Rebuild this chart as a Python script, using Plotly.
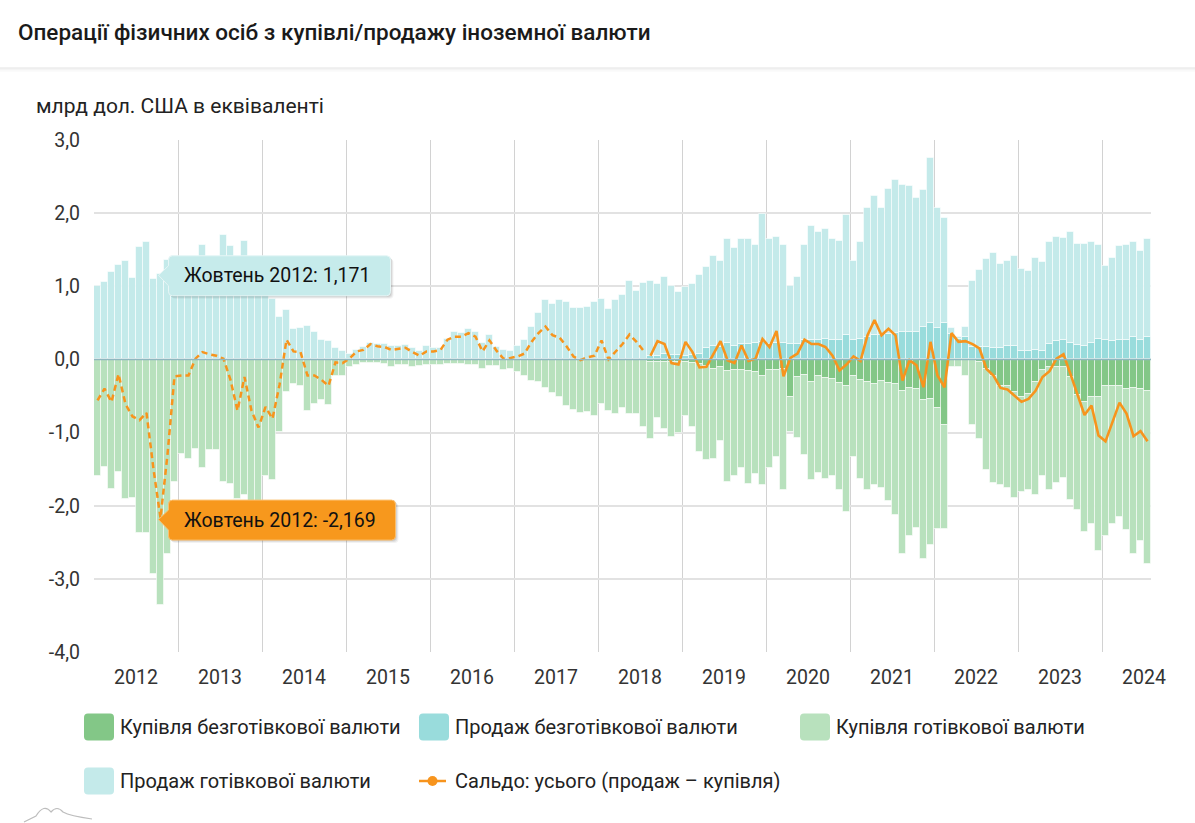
import plotly.graph_objects as go

# ---------------- data (mlrd USD equivalent), monthly Jan 2012 .. Jul 2024 ----------------
years = ["2012", "2013", "2014", "2015", "2016", "2017", "2018",
         "2019", "2020", "2021", "2022", "2023", "2024"]
months_uk = ["Січень", "Лютий", "Березень", "Квітень", "Травень", "Червень",
             "Липень", "Серпень", "Вересень", "Жовтень", "Листопад", "Грудень"]
y_tick_values = [-4, -3, -2, -1, 0, 1, 2, 3]
y_tick_labels = ["-4,0", "-3,0", "-2,0", "-1,0", "0,0", "1,0", "2,0", "3,0"]

# Продаж готівкової валюти
cash_sale = [
    1.00, 1.06, 1.19, 1.29, 1.35, 1.12, 1.54, 1.61, 1.10, 1.171, 1.36, 1.42,
    1.07, 1.13, 1.23, 1.57, 1.31, 1.29, 1.70, 1.55, 1.21, 1.62, 1.25, 1.02,
    0.94, 0.83, 0.58, 0.68, 0.42, 0.43, 0.46, 0.37, 0.27, 0.25, 0.15, 0.12,
    0.08, 0.13, 0.17, 0.23, 0.21, 0.21, 0.19, 0.18, 0.20, 0.16, 0.12, 0.18,
    0.15, 0.15, 0.28, 0.37, 0.36, 0.42, 0.37, 0.23, 0.34, 0.17, 0.13, 0.12,
    0.19, 0.26, 0.45, 0.64, 0.81, 0.76, 0.81, 0.78, 0.70, 0.71, 0.72, 0.79,
    0.83, 0.69, 0.81, 0.88, 1.07, 0.94, 1.04, 1.02, 0.98, 1.05, 0.94, 0.86,
    0.94, 0.97, 1.07, 1.11, 1.24, 1.17, 1.43, 1.34, 1.44, 1.44, 1.34, 1.75,
    1.44, 1.45, 1.35, 0.79, 0.92, 1.30, 1.56, 1.47, 1.51, 1.38, 1.35, 1.64,
    1.08, 1.32, 1.76, 1.91, 1.73, 1.98, 2.09, 2.01, 1.99, 1.84, 1.88, 2.26,
    1.64, 1.43, 0.08, 0.02, 0.15, 0.90, 1.05, 1.20, 1.30, 1.16, 1.16, 1.22,
    1.11, 1.10, 1.26, 1.21, 1.39, 1.42, 1.40, 1.51, 1.38, 1.39, 1.37, 1.29,
    1.02, 1.14, 1.28, 1.30, 1.30, 1.21, 1.35,
]

# Продаж безготівкової валюти (available from Aug 2018)
noncash_sale = [None] * 79 + [
    0.05, 0.05, 0.08, 0.06, 0.06,
    0.05, 0.06, 0.08, 0.15, 0.18, 0.17, 0.22, 0.19, 0.21, 0.21, 0.22, 0.24,
    0.21, 0.22, 0.22, 0.21, 0.21, 0.26, 0.27, 0.27, 0.28, 0.26, 0.27, 0.34,
    0.26, 0.28, 0.31, 0.33, 0.34, 0.35, 0.36, 0.37, 0.38, 0.37, 0.44, 0.50,
    0.43, 0.50, 0.35, 0.28, 0.30, 0.17, 0.17, 0.17, 0.16, 0.15, 0.18, 0.19,
    0.12, 0.11, 0.13, 0.12, 0.21, 0.25, 0.26, 0.23, 0.20, 0.19, 0.23, 0.28,
    0.26, 0.25, 0.27, 0.27, 0.30, 0.27, 0.30,
]

# Купівля готівкової валюти
cash_buy = [
    -1.60, -1.47, -1.77, -1.54, -1.91, -1.89, -2.37, -2.37, -2.93, -3.36, -2.66, -1.68,
    -1.29, -1.36, -1.22, -1.48, -1.24, -1.24, -1.68, -1.70, -1.91, -1.86, -1.95, -1.95,
    -1.59, -1.65, -0.99, -0.45, -0.33, -0.36, -0.70, -0.61, -0.55, -0.62, -0.22, -0.22,
    -0.10, -0.08, -0.05, -0.05, -0.05, -0.06, -0.10, -0.07, -0.07, -0.10, -0.09, -0.08,
    -0.07, -0.07, -0.06, -0.06, -0.06, -0.07, -0.08, -0.13, -0.09, -0.09, -0.14, -0.13,
    -0.17, -0.22, -0.29, -0.31, -0.39, -0.46, -0.52, -0.63, -0.69, -0.73, -0.72, -0.77,
    -0.61, -0.71, -0.74, -0.67, -0.75, -0.74, -0.93, -1.06, -0.77, -0.91, -1.02, -0.96,
    -0.74, -0.88, -1.21, -1.28, -1.23, -1.01, -1.52, -1.45, -1.35, -1.54, -1.39, -1.50,
    -1.34, -1.19, -1.65, -0.47, -0.84, -1.09, -1.34, -1.32, -1.37, -1.32, -1.47, -1.72,
    -1.11, -1.36, -1.47, -1.38, -1.46, -1.62, -1.80, -2.23, -2.03, -1.90, -2.17, -2.00,
    -1.65, -1.43, -0.11, -0.10, -0.22, -0.88, -1.06, -1.38, -1.47, -1.36, -1.39, -1.45,
    -1.29, -1.31, -1.54, -1.44, -1.68, -1.59, -1.52, -1.68, -1.57, -1.78, -1.73, -2.11,
    -2.05, -1.88, -1.80, -1.93, -2.27, -2.07, -2.37,
]

# Купівля безготівкової валюти (available from Aug 2018)
noncash_buy = [None] * 79 + [
    -0.03, -0.03, -0.04, -0.04, -0.04,
    -0.04, -0.05, -0.06, -0.09, -0.13, -0.10, -0.16, -0.14, -0.14, -0.16, -0.17, -0.22,
    -0.15, -0.15, -0.13, -0.52, -0.24, -0.21, -0.31, -0.23, -0.26, -0.27, -0.32, -0.36,
    -0.22, -0.28, -0.31, -0.34, -0.30, -0.32, -0.33, -0.43, -0.39, -0.40, -0.56, -0.54,
    -0.67, -0.89, 0.00, 0.00, 0.00, -0.01, -0.03, -0.13, -0.22, -0.36, -0.37, -0.45,
    -0.52, -0.47, -0.31, -0.15, -0.11, -0.10, -0.10, -0.24, -0.49, -0.58, -0.52, -0.51,
    -0.37, -0.37, -0.36, -0.40, -0.39, -0.41, -0.43,
]

# Сальдо: cash only (Jan 2012 .. Jul 2018, dashed)
saldo_cash = [
    -0.56, -0.40, -0.58, -0.20, -0.61, -0.78, -0.83, -0.73, -1.50, -2.169, -1.30, -0.23,
    -0.22, -0.22, 0.01, 0.10, 0.07, 0.05, 0.01, -0.28, -0.70, -0.24, -0.70, -0.93,
    -0.65, -0.81, -0.35, 0.27, 0.11, 0.10, -0.22, -0.22, -0.28, -0.36, -0.04, -0.05,
    0.01, 0.11, 0.13, 0.21, 0.18, 0.17, 0.13, 0.15, 0.16, 0.10, 0.05, 0.11,
    0.11, 0.13, 0.27, 0.31, 0.31, 0.36, 0.31, 0.11, 0.26, 0.12, 0.01, 0.02,
    0.04, 0.08, 0.24, 0.36, 0.45, 0.33, 0.30, 0.18, 0.04, -0.01, 0.03, 0.05,
    0.26, 0.00, 0.10, 0.21, 0.34, 0.24, 0.12,
]
# Сальдо: усього (Aug 2018 .. Jul 2024, solid)
saldo_total = [None] * 79 + [
    0.05, 0.25, 0.21, -0.05, -0.07,
    0.24, 0.10, -0.11, -0.10, 0.08, 0.25, -0.01, -0.05, 0.19, -0.02, 0.01, 0.28,
    0.17, 0.39, -0.23, 0.02, 0.08, 0.27, 0.21, 0.21, 0.17, 0.05, -0.15, -0.07,
    0.04, -0.02, 0.33, 0.54, 0.33, 0.42, 0.33, -0.29, -0.01, -0.08, -0.38, 0.24,
    -0.22, -0.38, 0.36, 0.24, 0.25, 0.21, 0.15, -0.13, -0.22, -0.39, -0.41, -0.49,
    -0.58, -0.54, -0.43, -0.24, -0.16, 0.01, 0.07, -0.20, -0.48, -0.76, -0.63, -1.04,
    -1.12, -0.86, -0.59, -0.74, -1.05, -0.98, -1.12,
]

series_names = ["Купівля безготівкової валюти", "Продаж безготівкової валюти",
                "Купівля готівкової валюти", "Продаж готівкової валюти",
                "Сальдо: усього (продаж – купівля)"]
title_text = "Операції фізичних осіб з купівлі/продажу іноземної валюти"
unit_text = "млрд дол. США в еквіваленті"
tooltip_index = 9  # Жовтень 2012

# ---------------- styling ----------------
C_NB = "#83c787"   # non-cash buy
C_NS = "#99dcdc"   # non-cash sale
C_CB = "#b8e1bd"   # cash buy
C_CS = "#c4eaea"   # cash sale
C_LINE = "#f7941d"
FONT = "Roboto"
FS = 19.5
FS_LEG = 20
W, H = 1195, 823
PL, PT, PW, PH = 94, 140, 1057, 512
n = len(cash_sale)
XR = (-0.5, n - 0.5)
YR = (-4, 3)


def x2px(x):
    return PL + (x - XR[0]) / (XR[1] - XR[0]) * PW


def y2px(y):
    return PT + (YR[1] - y) / (YR[1] - YR[0]) * PH


def px2x(px):
    return XR[0] + (px - PL) / PW * (XR[1] - XR[0])


def py2y(py):
    return YR[1] - (py - PT) / PH * (YR[1] - YR[0])


def px2paper(px):
    return (px - PL) / PW


def py2paper(py):
    return (PT + PH - py) / PH


def path_from_px(cmds, fx, fy):
    out = []
    for c in cmds:
        if isinstance(c, str):
            out.append(c)
        else:
            out.append(f"{fx(c[0]):.5f},{fy(c[1]):.5f}")
    return " ".join(out)


def rounded_rect(l, t, r, b, rad):
    return ["M", (l + rad, t), "L", (r - rad, t), "Q", (r, t), (r, t + rad),
            "L", (r, b - rad), "Q", (r, b), (r - rad, b), "L", (l + rad, b),
            "Q", (l, b), (l, b - rad), "L", (l, t + rad), "Q", (l, t), (l + rad, t), "Z"]


idx = list(range(n))
fig = go.Figure()
bar_line = dict(color="rgba(255,255,255,0.55)", width=1)
fig.add_trace(go.Bar(x=idx, y=noncash_buy, name=series_names[0], marker=dict(color=C_NB, line=bar_line), showlegend=False))
fig.add_trace(go.Bar(x=idx, y=noncash_sale, name=series_names[1], marker=dict(color=C_NS, line=bar_line), showlegend=False))
fig.add_trace(go.Bar(x=idx, y=cash_buy, name=series_names[2], marker=dict(color=C_CB, line=bar_line), showlegend=False))
fig.add_trace(go.Bar(x=idx, y=cash_sale, name=series_names[3], marker=dict(color=C_CS, line=bar_line), showlegend=False))
fig.add_trace(go.Scatter(x=idx[:len(saldo_cash)], y=saldo_cash, mode="lines", name=series_names[4],
                         line=dict(color=C_LINE, width=2.5, dash="6px,4px"), showlegend=False))
fig.add_trace(go.Scatter(x=idx, y=saldo_total, mode="lines", name=series_names[4],
                         line=dict(color=C_LINE, width=2.6), showlegend=False))

shapes = []
annotations = []

# zero line above bars
shapes.append(dict(type="line", xref="paper", yref="y", x0=0, x1=1, y0=0, y1=0,
                   line=dict(color="#8fb7bf", width=1.5), layer="above"))

# separator under the title (soft shadow)
for k, col in enumerate(["#e2e2e2", "#ececec", "#f3f3f3", "#f8f8f8"]):
    yy = py2paper(68 + k)
    shapes.append(dict(type="line", xref="paper", yref="paper", x0=px2paper(0), x1=px2paper(W),
                       y0=yy, y1=yy, line=dict(color=col, width=1)))

# tooltips
def add_tooltip(val, label, fill, border, box_w):
    px = x2px(tooltip_index)
    py = y2px(val)
    left, right = px + 8, px + 8 + box_w
    top, bottom = py - 18, py + 22
    rad = 4
    cmds = ["M", (left + rad, top), "L", (right - rad, top), "Q", (right, top), (right, top + rad),
            "L", (right, bottom - rad), "Q", (right, bottom), (right - rad, bottom),
            "L", (left + rad, bottom), "Q", (left, bottom), (left, bottom - rad),
            "L", (left, py + 12), "L", (px - 2, py + 1.5), "L", (left, py - 8),
            "L", (left, top + rad), "Q", (left, top), (left + rad, top), "Z"]
    for off, alpha in ((3, 0.05), (2, 0.07), (1, 0.09)):
        shifted = [c if isinstance(c, str) else (c[0] + off, c[1] + off) for c in cmds]
        shapes.append(dict(type="path", xref="x", yref="y",
                           path=path_from_px(shifted, px2x, py2y),
                           fillcolor=f"rgba(0,0,0,{alpha})", line=dict(width=0), layer="above"))
    shapes.append(dict(type="path", xref="x", yref="y", path=path_from_px(cmds, px2x, py2y),
                       fillcolor=fill, line=dict(color=border, width=1), layer="above"))
    annotations.append(dict(x=px2x(left + 13), y=py2y(py + 2), xref="x", yref="y", text=label,
                            showarrow=False, xanchor="left", yanchor="middle",
                            font=dict(family=FONT, size=FS, color="#111111")))


def fmt(v):
    return f"{v:.3f}".replace(".", ",")


period = f"{months_uk[tooltip_index % 12]} {years[tooltip_index // 12]}"
add_tooltip(cash_sale[tooltip_index], f"{period}: {fmt(cash_sale[tooltip_index])}", "#c6ebeb", "#e6f6f6", 222)
add_tooltip(saldo_cash[tooltip_index], f"{period}: {fmt(saldo_cash[tooltip_index])}", "#f7981d", "#fbc070", 227)

# unit label
annotations.append(dict(x=px2paper(34), y=py2paper(106), xref="paper", yref="paper", text=unit_text,
                        showarrow=False, xanchor="left", yanchor="middle",
                        font=dict(family=FONT, size=21, color="#222222")))

# custom legend
legend_items = [
    (series_names[0], C_NB, 84, 727),
    (series_names[1], C_NS, 419, 727),
    (series_names[2], C_CB, 800, 727),
    (series_names[3], C_CS, 84, 781),
]
for name, col, lx, ly in legend_items:
    rr = rounded_rect(lx, ly - 13.5, lx + 30, ly + 13.5, 4)
    shapes.append(dict(type="path", xref="paper", yref="paper", path=path_from_px(rr, px2paper, py2paper),
                       fillcolor=col, line=dict(width=0)))
    annotations.append(dict(x=px2paper(lx + 34), y=py2paper(ly), xref="paper", yref="paper", text=name,
                            showarrow=False, xanchor="left", yanchor="middle",
                            font=dict(family=FONT, size=FS_LEG, color="#222222")))
# line legend item
shapes.append(dict(type="line", xref="paper", yref="paper", x0=px2paper(419), x1=px2paper(446),
                   y0=py2paper(781), y1=py2paper(781), line=dict(color=C_LINE, width=2.5)))
shapes.append(dict(type="circle", xref="paper", yref="paper", x0=px2paper(427.5), x1=px2paper(437.5),
                   y0=py2paper(776), y1=py2paper(786), fillcolor=C_LINE, line=dict(width=0)))
annotations.append(dict(x=px2paper(453), y=py2paper(781), xref="paper", yref="paper", text=series_names[4],
                        showarrow=False, xanchor="left", yanchor="middle",
                        font=dict(family=FONT, size=FS_LEG, color="#222222")))

# small logo at bottom-left
logo = ["M", (24, 822), "L", (36, 816), "Q", (44, 803), (51, 812), "Q", (57, 805), (63, 812),
        "Q", (70, 816), (92, 819)]
shapes.append(dict(type="path", xref="paper", yref="paper", path=path_from_px(logo, px2paper, py2paper),
                   line=dict(color="#bdbdbd", width=1.2)))

fig.update_layout(
    width=W, height=H,
    margin=dict(l=PL, r=W - PL - PW, t=PT, b=H - PT - PH, pad=0),
    paper_bgcolor="white", plot_bgcolor="white",
    barmode="relative", bargap=0,
    separators=", ",
    title=dict(text=title_text, x=18 / W, xref="container", xanchor="left",
               y=1 - 32 / H, yref="container", yanchor="middle",
               font=dict(family=FONT, size=22.5, color="#1a1a1a", weight=500)),
    font=dict(family=FONT, size=FS, color="#333333"),
    xaxis=dict(range=list(XR), tickmode="array",
               tickvals=[12 * k + 5.5 for k in range(len(years))], ticktext=years,
               showgrid=False, zeroline=False, showline=False, ticks="",
               ticklabelstandoff=11,
               tickfont=dict(family=FONT, size=FS, color="#333333"),
               minor=dict(tickmode="array", tickvals=[12 * k - 0.5 for k in range(len(years))],
                          showgrid=True, gridcolor="#d2d2d2", gridwidth=1, ticks="")),
    yaxis=dict(range=list(YR), tickmode="array", tickvals=y_tick_values, ticktext=y_tick_labels,
               showgrid=True, gridcolor="#e2e2e2", gridwidth=1.5, zeroline=False, showline=False,
               ticks="", ticklabelstandoff=13,
               tickfont=dict(family=FONT, size=FS, color="#333333")),
    shapes=shapes, annotations=annotations,
    hovermode=False,
)

fig.write_html("out.html", config={"displayModeBar": False},
               post_script="document.body.style.margin='0';document.body.style.overflow='hidden';")
